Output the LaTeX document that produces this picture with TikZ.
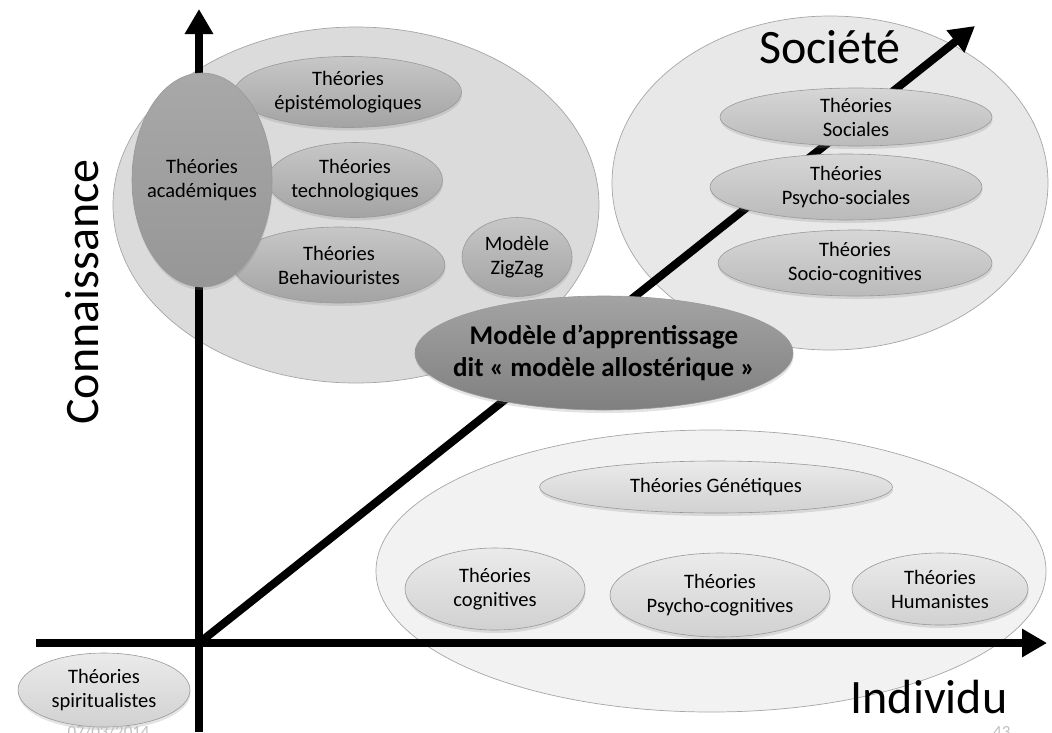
\documentclass[tikz,border=0pt]{standalone}
\usepackage{fontspec}
\setmainfont{Carlito}
\usetikzlibrary{positioning,arrows.meta,shapes.geometric,shadows}
\tikzset{R node/.style={ellipse,draw=black!35,line width=0.7pt,inner sep=0pt},
	T node/.style={ellipse,draw=black!40,line width=0.6pt,inner xsep=-8pt,inner ysep=-2pt,align=center,font=\fontsize{20.5}{24}\selectfont,drop shadow={shadow xshift=0.5pt,shadow yshift=-3pt,opacity=0.22}},
	mid node/.style={T node,top color=black!22,bottom color=black!36},
	pale node/.style={T node,top color=black!16,bottom color=black!27},
	light node/.style={T node,top color=black!8,bottom color=black!18},
	axis line/.style={-{Triangle[length=25pt,width=27pt]},line width=8pt},
	L node/.style={font=\fontsize{48}{56}\selectfont},
	foot/.style={text=black!25,font=\fontsize{17}{20}\selectfont},}

\begin{document}
\begin{tikzpicture}[x=1pt,y=-1pt]
			\useasboundingbox (0,0) rectangle (1052,732);

			\node[R node, fill=black!14, minimum width=486pt, minimum height=356pt] (reg1) at (356,205) {};
			\node[R node, fill=black!9, minimum width=436pt, minimum height=334pt] (reg2) at (830,183) {};
			\node[R node, fill=black!5, minimum width=670pt, minimum height=282pt] (reg3) at (711,571) {};

			\coordinate (O) at (199,643);
			\coordinate (ytop) at (199,9);
			\coordinate (ybot) at (199,732);
			\coordinate (xl) at (36,643);
			\coordinate (xr) at (1047,643);
			\coordinate (dtop) at (975,26);

			\draw[axis line] (ybot) -- (ytop);
			\draw[axis line] (xl) -- (xr);
			\draw[axis line] (O) -- (dtop);

			\node[mid node, minimum width=227pt, minimum height=71pt] (te) at (348,92) {Théories\\épistémologiques};
			\node[mid node, minimum width=175pt, minimum height=75pt] (tt) at (355,180) {Théories\\technologiques};
			\node[mid node, minimum width=212pt, minimum height=76pt] (tb) at (339,265) {Théories\\Behaviouristes};
			\node[mid node, top color=black!34, bottom color=black!41, minimum width=140pt, minimum height=214pt] (ta) at (202,180) {Théories\\académiques};
			\node[mid node, minimum width=110pt, minimum height=79pt] (mz) at (517,257) {Modèle\\ZigZag};

			\node[pale node, minimum width=272pt, minimum height=58pt] (ts) at (856,117) {Théories\\Sociales};
			\node[pale node, minimum width=272pt, minimum height=66pt] (tps) at (846,187) {Théories\\Psycho-sociales};
			\node[pale node, minimum width=274pt, minimum height=66pt] (tsc) at (855,263) {Théories\\Socio-cognitives};

			\node[light node, minimum width=353pt, minimum height=52pt] (tg) at (716,487) {Théories Génétiques};
			\node[light node, minimum width=180pt, minimum height=82pt] (tc) at (495,589) {Théories\\cognitives};
			\node[light node, minimum width=220pt, minimum height=84pt] (tpc) at (720,595) {Théories\\Psycho-cognitives};
			\node[light node, minimum width=176pt, minimum height=72pt] (th) at (940,589) {Théories\\Humanistes};
			\node[light node, minimum width=172pt, minimum height=74pt] (tsp) at (104,690) {Théories\\spiritualistes};

			\node[T node, top color=black!36, bottom color=black!50, inner xsep=-28pt, font=\fontsize{27}{32}\selectfont\bfseries, minimum width=378pt, minimum height=114pt] (ma) at (604,353) {Modèle d’apprentissage\\dit « modèle allostérique »};

			\node[L node, rotate=90] (con) at (82,292) {Connaissance};
			\node[L node, anchor=base] (soc) at (830,63) {Société};
			\node[L node, anchor=base] (ind) at (929,713) {Individu};

			\node[foot, anchor=base west] (date) at (64,737) {07/03/2014};
			\node[foot, anchor=base east] (page) at (1014,737) {43};
		\end{tikzpicture}
\end{document}
